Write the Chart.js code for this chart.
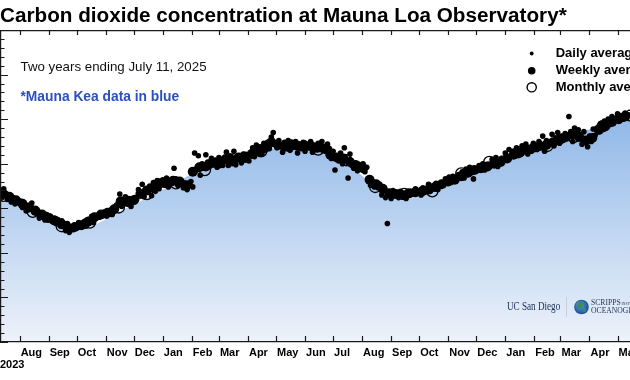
<!DOCTYPE html>
<html><head><meta charset="utf-8">
<script src="https://cdn.jsdelivr.net/npm/chart.js@4.4.1/dist/chart.umd.min.js"></script>
<style>
html,body{margin:0;padding:0;background:#fff;}
#wrap{position:relative;width:630px;height:380px;overflow:hidden;background:#fff;}
#c{position:absolute;left:0;top:0;}
</style></head><body>
<div id="wrap"><canvas id="c" width="760" height="380"></canvas></div>
<script>
// ---- texts ----
const titleText = 'Carbon dioxide concentration at Mauna Loa Observatory*';
const subtitleText = 'Two years ending July 11, 2025';
const noteText = '*Mauna Kea data in blue';
const legendLabels = ['Daily average', 'Weekly average', 'Monthly average'];
const startYearLabel = '2023';
const logoText1 = 'UC San Diego';
const logoText2a = 'SCRIPPS';
const logoText2b = 'OCEANOGRAPHY';

// ---- axes (x = days since July 11, 2023) ----
const dayMax = 731;
const monthStartDays = [21,52,82,113,143,174,205,234,265,295,326,356,387,418,448,479,509,540,571,599,630,660,691,721];
const monthLabels = ['Aug','Sep','Oct','Nov','Dec','Jan','Feb','Mar','Apr','May','Jun','Jul','Aug','Sep','Oct','Nov','Dec','Jan','Feb','Mar','Apr','May','Jun','Jul'];
const yMin = 405, yMax = 440, yMajorStep = 5, yMinorStep = 1;

// ---- data (ppm) ----
const dailyStartDay = 0, dailyStepDays = 2;
const dailyValues = [
421.9,421.2,422.2,421.5,421.0,
421.4,420.7,421.2,420.5,421.0,420.6,
420.8,420.1,420.5,419.7,420.3,419.9,420.6,419.6,420.0,
419.4,418.9,419.5,419.0,418.7,419.3,418.8,419.1,
418.5,418.9,418.3,418.7,418.2,418.6,
418.0,417.5,418.3,417.3,417.9,417.6,
418.1,417.8,418.4,417.9,418.2,418.5,418.0,418.3,
418.6,419.1,418.4,418.9,419.2,
419.0,419.5,419.2,419.6,419.1,
419.4,419.8,419.3,419.7,420.0,
420.4,421.6,420.2,420.9,421.3,
420.5,421.1,420.2,420.8,421.2,
421.0,422.1,421.5,422.7,421.3,422.2,421.8,
422.5,421.4,422.9,421.9,423.1,422.2,422.7,423.2,
422.6,423.4,422.4,423.0,422.8,424.5,423.3,422.6,423.1,422.9,
422.3,422.8,422.1,422.6,423.0,422.4,426.2,
424.3,425.9,423.7,425.0,424.5,426.0,
425.2,424.7,425.6,424.9,425.4,424.6,425.7,425.1,424.8,
425.5,426.3,424.8,425.9,425.2,426.4,424.9,425.6,
425.8,425.1,426.1,425.4,426.0,425.3,
426.0,426.8,425.8,427.1,426.3,426.9,426.1,427.3,426.5,
427.4,426.7,428.0,428.5,427.2,426.8,427.6,
427.0,426.3,427.4,426.8,427.6,426.5,427.1,426.9,427.5,426.2,427.2,426.7,427.4,426.4,427.0,426.8,427.5,426.3,427.1,426.6,
427.3,426.6,427.5,426.9,426.4,427.2,426.7,
425.6,426.4,424.3,425.9,425.3,426.2,
425.0,426.8,425.4,423.4,426.1,424.8,
424.5,425.1,424.2,424.9,424.4,425.0,424.1,424.6,
423.3,422.6,423.0,422.4,422.9,422.3,422.7,
421.5,422.2,421.2,418.3,421.8,421.1,422.0,421.4,
421.7,421.2,421.9,421.4,421.6,421.1,421.8,421.5,
421.9,421.6,422.2,421.7,422.0,421.5,422.3,421.8,
422.0,422.7,421.9,422.5,422.2,422.8,422.1,422.6,422.9,
422.6,423.3,422.8,423.5,422.9,423.6,423.1,423.4,423.8,
423.5,424.1,423.4,424.4,423.8,424.6,424.0,423.3,424.3,
424.2,424.8,424.4,425.0,424.3,424.7,424.9,
424.8,425.5,425.0,425.7,424.7,425.3,425.6,
425.5,426.2,425.7,426.6,425.9,426.4,426.0,426.8,426.1,
426.3,427.0,426.5,427.2,426.1,426.8,426.4,427.3,426.7,
426.6,427.5,426.9,428.1,426.4,427.6,427.1,
427.4,428.3,427.0,427.9,428.5,427.3,428.1,427.6,428.4,
428.0,430.3,428.6,427.5,429.0,428.2,428.8,
428.3,427.2,428.6,427.7,426.9,428.1,427.5,428.9,428.2,
429.0,428.6,429.5,428.9,429.8,429.2,430.0,429.4,430.3,429.6,430.1,430.6,429.8,430.4,430.0,430.7,430.2,430.5
];
const weeklyStartDay = 3, weeklyStepDays = 7;
const weeklyValues = [
421.6,421.3,420.9,420.5,420.1,419.7,419.3,418.9,418.6,418.2,
417.8,417.9,418.1,418.5,419.0,419.3,419.5,419.9,420.8,420.7,
420.9,421.6,422.0,422.3,422.8,423.0,423.1,423.0,422.6,424.1,
424.6,424.7,425.1,425.0,425.5,425.4,425.7,425.8,426.1,426.4,
426.8,427.4,427.1,426.9,427.2,427.0,427.1,427.0,426.8,426.7,
426.0,425.7,425.6,425.2,424.8,424.5,423.2,422.7,422.2,421.7,
421.6,421.5,421.7,421.8,421.9,422.1,422.4,422.7,423.0,423.2,
423.6,424.0,424.3,424.5,424.7,425.0,425.2,425.6,426.0,426.3,
426.6,426.8,427.0,427.1,427.4,427.7,428.0,428.3,428.0,427.6,
427.9,428.8,429.2,429.7,430.0,430.3
];
const monthlyDays = [4,35,66,96,127,157,188,219,248,279,309,340,370,401,432,462,493,523,554,585,613,644,674];
const monthlyValues = [421.4,419.6,418.0,418.4,420.1,421.6,422.8,424.3,425.4,426.4,427.0,426.6,425.4,422.4,421.6,421.9,423.9,425.2,426.3,427.0,428.0,429.2,430.4];
// upper edge of the blue shaded area
const fillDays = [0,36,67,97,127,158,188,220,248,279,310,341,370,401,432,462,493,523,554,585,613,644,674,705,731];
const fillValues = [420.9,419.6,418.0,418.1,419.6,421.2,422.9,424.6,425.4,426.3,427.0,426.7,425.1,422.6,421.8,422.0,423.8,425.4,426.5,427.3,428.4,429.3,430.7,429.8,428.5];

// ---- build datasets from arrays ----
const dailyPts = dailyValues.map((v, i) => ({x: dailyStartDay + i * dailyStepDays, y: v}));
const weeklyPts = weeklyValues.map((v, i) => ({x: weeklyStartDay + i * weeklyStepDays, y: v}));
const monthlyPts = monthlyValues.map((v, i) => ({x: monthlyDays[i], y: v}));
const fillPts = fillValues.map((v, i) => ({x: fillDays[i], y: v}));

const FONT = 'Liberation Sans';
Chart.defaults.font.family = FONT;

const overlay = {
  id: 'overlay',
  afterDatasetsDraw(chart) {
    const {ctx, chartArea: a, scales: {x, y}} = chart;
    ctx.save();
    ctx.strokeStyle = '#1a1a1a';
    ctx.lineWidth = 1.2;
    ctx.beginPath();
    ctx.moveTo(a.left + 0.6, a.bottom); ctx.lineTo(a.left + 0.6, a.top);
    ctx.moveTo(a.left, a.top + 0.5); ctx.lineTo(a.right, a.top + 0.5);
    ctx.moveTo(a.left, a.bottom - 0.4); ctx.lineTo(a.right, a.bottom - 0.4);
    ctx.moveTo(a.right - 0.5, a.top); ctx.lineTo(a.right - 0.5, a.bottom);
    monthStartDays.forEach(d => {
      const px = Math.round(x.getPixelForValue(d)) + 0.5;
      ctx.moveTo(px, a.bottom); ctx.lineTo(px, a.bottom - 6);
      ctx.moveTo(px, a.top); ctx.lineTo(px, a.top + 5);
    });
    for (let v = yMin; v <= yMax; v += yMinorStep) {
      const py = Math.round(y.getPixelForValue(v)) + 0.5;
      const len = (v % yMajorStep === 0) ? 8 : 4.5;
      ctx.moveTo(a.left, py); ctx.lineTo(a.left + len, py);
    }
    ctx.stroke();
    ctx.restore();
  },
  afterDraw(chart) {
    const {ctx, chartArea: a, scales: {x}} = chart;
    ctx.save();
    ctx.textBaseline = 'middle';
    ctx.textAlign = 'left';
    ctx.fillStyle = '#000';
    ctx.font = 'bold 11px "' + FONT + '"';
    ctx.fillText(startYearLabel, x.getPixelForValue(0), 365);
    ctx.font = '13.3px "' + FONT + '"';
    ctx.fillStyle = '#111';
    ctx.fillText(subtitleText, a.left + 20.5, 67);
    ctx.font = 'bold 13.8px "' + FONT + '"';
    ctx.fillStyle = '#2a50c0';
    ctx.fillText(noteText, a.left + 20.5, 97.5);
    // legend
    const ds = chart.data.datasets;
    const lx = 531.7, ly = [53.5, 70.8, 87.3];
    const radii = [1.9, 3.8, 4.6];
    [1, 2, 3].forEach((di, k) => {
      const d = ds[di];
      ctx.beginPath();
      ctx.arc(lx, ly[k], radii[k], 0, Math.PI * 2);
      if (d.pointBackgroundColor !== 'rgba(0,0,0,0)') { ctx.fillStyle = d.pointBackgroundColor; ctx.fill(); }
      else { ctx.fillStyle = '#fff'; ctx.fill(); ctx.lineWidth = 1.4; ctx.strokeStyle = d.pointBorderColor; ctx.stroke(); }
      ctx.fillStyle = '#000';
      ctx.font = 'bold 13px "' + FONT + '"';
      ctx.fillText(legendLabels[k], 555.7, ly[k]);
    });
    // logos
    ctx.save();
    ctx.translate(507, 307);
    ctx.scale(0.76, 1);
    ctx.font = '12px "Liberation Serif"';
    ctx.fillStyle = '#1b2d4d';
    ctx.fillText(logoText1, 0, 0);
    ctx.restore();
    ctx.beginPath();
    ctx.strokeStyle = '#c9ced8';
    ctx.lineWidth = 1;
    ctx.moveTo(566.5, 297); ctx.lineTo(566.5, 317);
    ctx.stroke();
    const g = ctx.createRadialGradient(579, 304, 1, 581.5, 307, 7.5);
    g.addColorStop(0, '#5aa0e0'); g.addColorStop(1, '#1b4d9a');
    ctx.beginPath(); ctx.arc(581.5, 307, 7.3, 0, Math.PI * 2); ctx.fillStyle = g; ctx.fill();
    ctx.beginPath(); ctx.ellipse(580, 305, 2.6, 3.6, 0.4, 0, Math.PI * 2); ctx.fillStyle = '#3f8f4a'; ctx.fill();
    ctx.beginPath(); ctx.ellipse(584.5, 310, 1.6, 2.2, 0.3, 0, Math.PI * 2); ctx.fill();
    ctx.fillStyle = '#26365a';
    ctx.save(); ctx.translate(591, 303); ctx.scale(0.9, 1);
    ctx.font = '8.5px "Liberation Serif"'; ctx.fillText(logoText2a, 0, 0);
    ctx.font = '4px "Liberation Serif"'; ctx.fillText('INSTITUTION OF', 34, 0.5);
    ctx.restore();
    ctx.save(); ctx.translate(591, 310.5); ctx.scale(0.9, 1);
    ctx.font = '8.5px "Liberation Serif"'; ctx.fillText(logoText2b, 0, 0);
    ctx.restore();
    ctx.restore();
  }
};

new Chart(document.getElementById('c'), {
  type: 'scatter',
  data: {
    datasets: [
      {
        type: 'line', label: 'area', data: fillPts, fill: 'start',
        backgroundColor: (c) => {
          const ch = c.chart, a = ch.chartArea;
          if (!a) return 'rgba(150,185,230,1)';
          const gr = ch.ctx.createLinearGradient(0, a.top, 0, a.bottom);
          gr.addColorStop(0, 'rgb(109,162,225)');
          gr.addColorStop(1, 'rgb(237,242,250)');
          return gr;
        },
        borderWidth: 0, borderColor: 'rgba(0,0,0,0)', pointRadius: 0,
        cubicInterpolationMode: 'monotone', order: 4
      },
      { label: legendLabels[0], data: dailyPts, pointRadius: 2.8, pointBackgroundColor: '#000', pointBorderWidth: 0, pointBorderColor: '#000', order: 3 },
      { label: legendLabels[1], data: weeklyPts, pointRadius: 5.0, pointBackgroundColor: '#000', pointBorderWidth: 0, pointBorderColor: '#000', order: 2 },
      { label: legendLabels[2], data: monthlyPts, pointRadius: 5.6, pointBackgroundColor: 'rgba(0,0,0,0)', pointBorderWidth: 1.3, pointBorderColor: '#000', order: 1 }
    ]
  },
  options: {
    responsive: false, animation: false, devicePixelRatio: 1, events: [],
    layout: { autoPadding: false, padding: { left: 0, right: 76, top: 0, bottom: 16.8 } },
    scales: {
      x: {
        type: 'linear', min: 0, max: dayMax,
        afterBuildTicks: (s) => { s.ticks = monthStartDays.map(v => ({value: v})); },
        ticks: {
          autoSkip: false, maxRotation: 0, minRotation: 0, align: 'start', labelOffset: 1, padding: 4,
          color: '#000', font: {family: FONT, size: 11, weight: 'bold', lineHeight: 1.2},
          callback: (v, i) => monthLabels[i]
        },
        grid: { display: false, drawTicks: false },
        border: { display: false }
      },
      y: { type: 'linear', min: yMin, max: yMax, display: false }
    },
    plugins: {
      legend: { display: false },
      tooltip: { enabled: false },
      title: {
        display: true, text: titleText, align: 'start', color: '#000',
        font: { family: FONT, size: 20.7, weight: 'bold', lineHeight: 1.2 },
        padding: { top: 3.6, bottom: 1.6 }
      }
    }
  },
  plugins: [overlay]
});
</script>
</body></html>
